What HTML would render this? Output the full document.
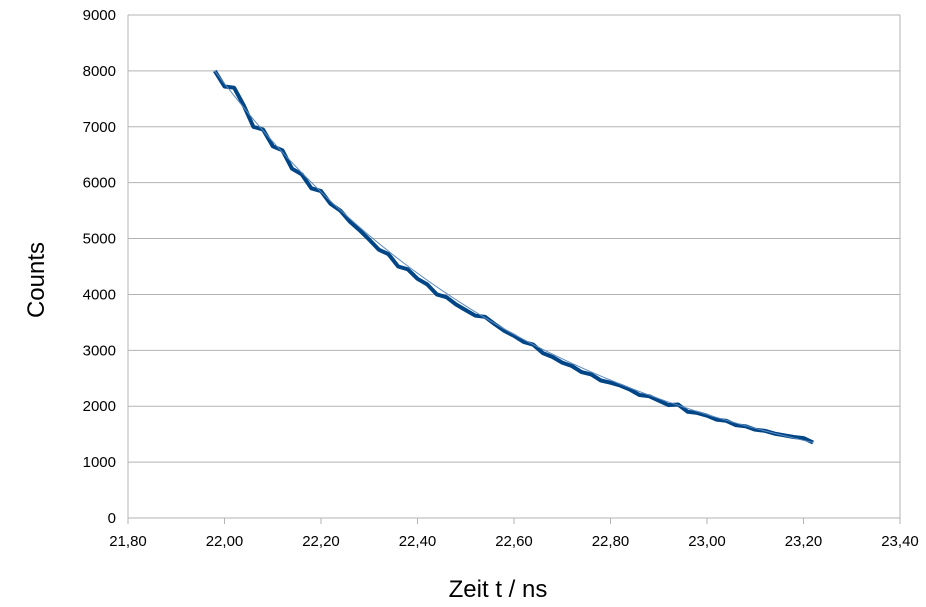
<!DOCTYPE html>
<html><head><meta charset="utf-8"><style>
body{margin:0;background:#fff;font-family:"Liberation Sans",sans-serif}
svg text{font-family:"Liberation Sans",sans-serif}
</style></head><body>
<svg width="926" height="602" id="c">
<g id="grid"></g>
<g id="ticks"></g>
<text x="44" y="280" font-size="24" text-anchor="middle" transform="rotate(-90 44 280)">Counts</text>
<text x="498" y="597" font-size="24" text-anchor="middle">Zeit t / ns</text>
</svg>
<script>
const xTicks=[21.8,22.0,22.2,22.4,22.6,22.8,23.0,23.2,23.4];
const yTicks=[0,1000,2000,3000,4000,5000,6000,7000,8000,9000];
const times=[21.98,22.00,22.02,22.04,22.06,22.08,22.10,22.12,22.14,22.16,22.18,22.20,22.22,22.24,22.26,22.28,22.30,22.32,22.34,22.36,22.38,22.40,22.42,22.44,22.46,22.48,22.50,22.52,22.54,22.56,22.58,22.60,22.62,22.64,22.66,22.68,22.70,22.72,22.74,22.76,22.78,22.80,22.82,22.84,22.86,22.88,22.90,22.92,22.94,22.96,22.98,23.00,23.02,23.04,23.06,23.08,23.10,23.12,23.14,23.16,23.18,23.20,23.22];
const counts=[8000,7720,7700,7380,7000,6950,6650,6580,6250,6150,5900,5850,5620,5500,5300,5150,4980,4800,4720,4500,4450,4280,4180,4000,3950,3820,3720,3620,3600,3470,3350,3260,3150,3100,2950,2880,2780,2720,2610,2570,2460,2420,2370,2300,2200,2180,2100,2020,2030,1900,1880,1830,1760,1740,1660,1640,1580,1560,1510,1480,1450,1430,1350];
const fitA=8000, fitT0=21.98, fitTau=0.697;
const X=t=>128+(t-21.8)/1.6*772;
const Y=v=>518-v/9000*503;
const NS='http://www.w3.org/2000/svg';
const svg=document.getElementById('c'),grid=document.getElementById('grid'),tk=document.getElementById('ticks');
function mk(tag,a,parent){const e=document.createElementNS(NS,tag);for(const k in a)e.setAttribute(k,a[k]);(parent||svg).appendChild(e);return e;}
yTicks.forEach(v=>{
 const l=mk('line',{x1:128,x2:900,y1:Y(v),y2:Y(v),stroke:'#b3b3b3','stroke-width':1},grid);
 
 
 const t=mk('text',{x:116,y:Y(v)+5,'font-size':15,'text-anchor':'end'},tk);t.textContent=v;
 
 
});
mk('line',{x1:128,x2:128,y1:15,y2:518,stroke:'#b3b3b3'},grid);
mk('line',{x1:900,x2:900,y1:15,y2:518,stroke:'#b3b3b3'},grid);
xTicks.forEach(v=>{
 const l=mk('line',{x1:X(v),x2:X(v),y1:518,y2:524,stroke:'#b3b3b3'},grid);
 
 
 const t=mk('text',{x:X(v),y:546,'font-size':15,'text-anchor':'middle'},tk);t.textContent=v.toFixed(2).replace('.',',');
 
 
});
const d=times.map((t,i)=>(i?'L':'M')+X(t).toFixed(1)+','+Y(counts[i]).toFixed(1)).join(' ');
const p=mk('path',{d:d,fill:'none',stroke:'#004586','stroke-width':4,'stroke-linejoin':'round'});


let fd='';for(let i=0;i<=60;i++){const t=times[0]+(times[times.length-1]-times[0])*i/60;fd+=(i?'L':'M')+X(t).toFixed(1)+','+Y(fitA*Math.exp(-(t-fitT0)/fitTau)).toFixed(1);}
const f=mk('path',{d:fd,fill:'none',stroke:'#5a8ac0','stroke-width':1});


</script>
</body></html>
